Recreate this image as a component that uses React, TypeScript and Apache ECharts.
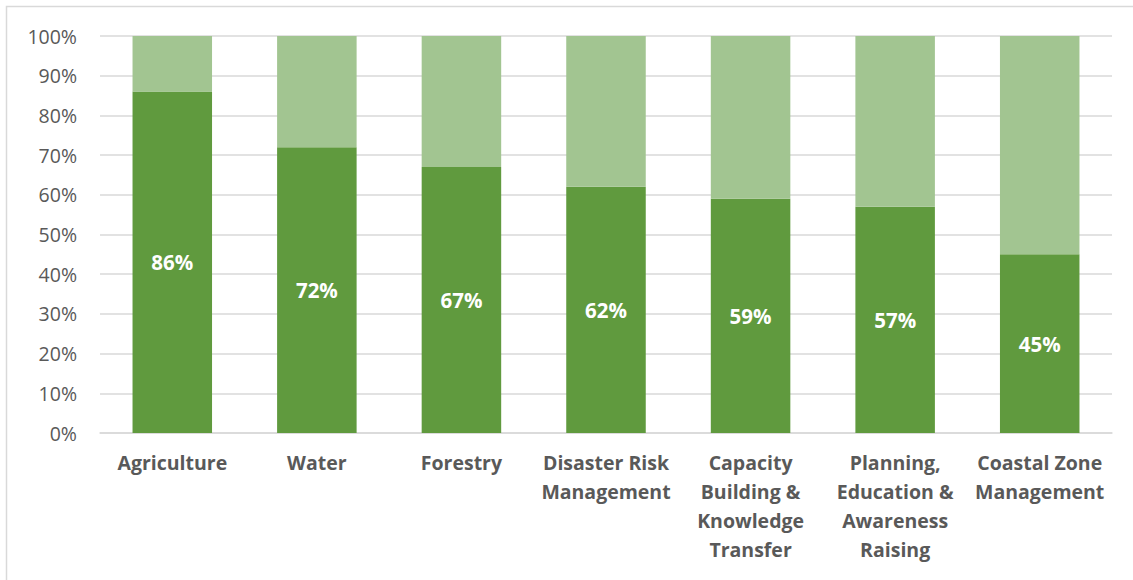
import React, { useEffect, useRef } from "react";
import * as echarts from "echarts";

const categories = [
  "Agriculture",
  "Water",
  "Forestry",
  "Disaster Risk\nManagement",
  "Capacity\nBuilding &\nKnowledge\nTransfer",
  "Planning,\nEducation &\nAwareness\nRaising",
  "Coastal Zone\nManagement",
];
const primaryValues = [86, 72, 67, 62, 59, 57, 45];
const remainderValues = [14, 28, 33, 38, 41, 43, 55];
const yTicks = [0, 10, 20, 30, 40, 50, 60, 70, 80, 90, 100];

const FONT = "'Open Sans', Lato, sans-serif";

export default function App() {
  const ref = useRef<HTMLDivElement>(null);
  useEffect(() => {
    if (!ref.current) return;
    const chart = echarts.init(ref.current, undefined, { renderer: "svg" });
    chart.setOption({
      animation: false,
      backgroundColor: "#ffffff",
      graphic: [
        {
          type: "rect",
          shape: { x: 6.5, y: 6.5, width: 1140, height: 600 },
          style: { fill: "none", stroke: "#D9D9D9", lineWidth: 1.5 },
          silent: true,
          z: -1,
        },
      ],
      grid: { left: 100, right: 21, top: 36, bottom: 147, containLabel: false },
      xAxis: {
        type: "category",
        data: categories,
        axisLine: { show: true, lineStyle: { color: "#D9D9D9", width: 1.5 } },
        axisTick: { show: false },
        axisLabel: {
          interval: 0,
          margin: 15,
          color: "#595959",
          fontFamily: FONT,
          fontWeight: "bold",
          fontSize: 19.5,
          lineHeight: 29,
        },
      },
      yAxis: {
        type: "value",
        min: 0,
        max: 100,
        interval: 10,
        axisLine: { show: false },
        axisTick: { show: false },
        splitLine: { lineStyle: { color: "#D9D9D9", width: 1.5 } },
        axisLabel: {
          margin: 23,
          color: "#595959",
          fontFamily: FONT,
          fontSize: 19.5,
          formatter: (v: number) => (yTicks.includes(v) ? v + "%" : ""),
        },
      },
      series: [
        {
          type: "bar",
          stack: "total",
          data: primaryValues,
          barWidth: "55%",
          itemStyle: { color: "#609A3E" },
          label: {
            show: true,
            position: "inside",
            color: "#ffffff",
            fontFamily: FONT,
            fontWeight: "bold",
            fontSize: 20.5,
            formatter: (p: any) => p.value + "%",
          },
        },
        {
          type: "bar",
          stack: "total",
          data: remainderValues,
          barWidth: "55%",
          itemStyle: { color: "#A2C591" },
        },
      ],
    });
    return () => chart.dispose();
  }, []);
  return (
    <div
      ref={ref}
      style={{ position: "fixed", left: 0, top: 0, width: 1133, height: 580 }}
    />
  );
}
